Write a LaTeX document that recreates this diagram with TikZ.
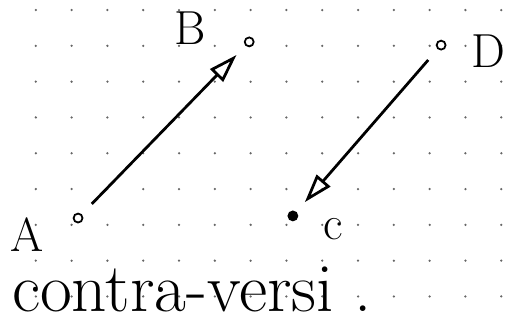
\documentclass[tikz,border=0pt]{standalone}
\usepackage{tikz}
\usetikzlibrary{arrows.meta}

\begin{document}
\begin{tikzpicture}[line width=2.2pt,
          every node/.style={inner sep=0pt},
          pt/.style={circle, draw, line width=1.4pt, minimum size=2.5mm},
          lbl/.style={font=\fontsize{38}{46}\selectfont},
          vec/.style={-{Triangle[open, length=8mm, width=5mm]}, shorten <=4mm, shorten >=3.6mm}]
          \useasboundingbox (0,0) rectangle (14.16,-9.08);
          \foreach \i in {1,...,14}
            \foreach \j in {0,...,8}
              \fill[gray!80!black] (\i,-0.28-\j) circle (0.035);

          \node[pt] (A) at (2.18,-6.09) {};
          \node[pt] (B) at (6.96,-1.17) {};
          \node[pt, fill] (C) at (8.18,-6.03) {};
          \node[pt] (D) at (12.32,-1.26) {};

          \node[lbl] (lblA) at (0.75,-6.55) {A};
          \node[lbl] (lblB) at (5.31,-0.78) {B};
          \node[lbl] (lblC) at (9.30,-6.40) {c};
          \node[lbl] (lblD) at (13.65,-1.42) {D};

          \node[anchor=base west, font=\fontsize{55}{66}\selectfont] (caption) at (0.30,-8.70) {contra-versi\ .};

          \draw[vec] (A) -- (B);
          \draw[vec] (D) -- (C);
\end{tikzpicture}
\end{document}
